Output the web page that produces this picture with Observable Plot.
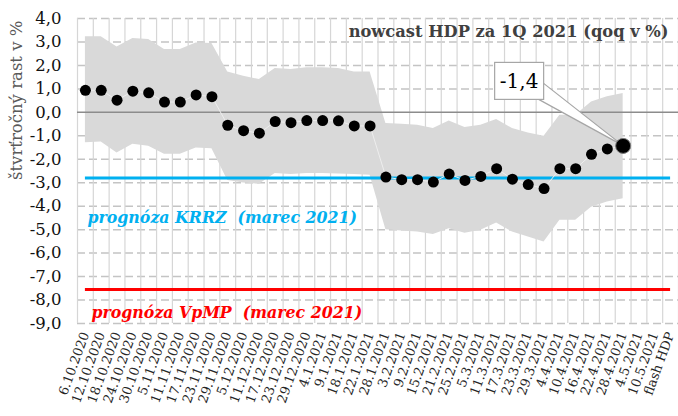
<!DOCTYPE html>
<html><head><meta charset="utf-8">
<script src="https://cdn.jsdelivr.net/npm/d3@7"></script>
<script src="https://cdn.jsdelivr.net/npm/@observablehq/plot@0.6"></script>
<style>body{margin:0;background:#fff;} svg{display:block}</style>
</head><body><div id="chart"></div>
<script>
const labels = ["6.10.2020","12.10.2020","18.10.2020","24.10.2020","30.10.2020","5.11.2020","11.11.2020","17.11.2020","23.11.2020","29.11.2020","5.12.2020","11.12.2020","17.12.2020","23.12.2020","29.12.2020","4.1.2021","9.1.2021","18.1.2021","22.1.2021","28.1.2021","3.2.2021","9.2.2021","15.2.2021","21.2.2021","25.2.2021","5.3.2021","11.3.2021","17.3.2021","23.3.2021","29.3.2021","4.4.2021","10.4.2021","16.4.2021","22.4.2021","28.4.2021","4.5.2021","10.5.2021","flash HDP"];
const nowcast = [0.94,0.94,0.52,0.90,0.83,0.44,0.44,0.74,0.67,-0.55,-0.78,-0.89,-0.39,-0.44,-0.35,-0.35,-0.36,-0.58,-0.58,-2.76,-2.87,-2.87,-2.97,-2.63,-2.90,-2.73,-2.40,-2.85,-3.08,-3.25,-2.40,-2.40,-1.79,-1.56,-1.43,null,null,null];
const upper = [3.22,3.22,2.79,3.15,3.10,2.68,2.68,2.96,2.93,1.72,1.54,1.40,1.87,1.83,1.90,1.90,1.87,1.72,1.72,-0.48,-0.51,-0.55,-0.69,-0.37,-0.65,-0.55,-0.31,-0.69,-0.88,-1.02,-0.12,-0.12,0.44,0.66,0.80];
const lower = [-1.30,-1.26,-1.73,-1.36,-1.45,-1.79,-1.79,-1.52,-1.55,-2.90,-3.01,-3.07,-2.61,-2.65,-2.61,-2.61,-2.63,-2.65,-2.68,-5.00,-5.06,-5.10,-5.21,-4.96,-5.15,-5.03,-4.72,-5.10,-5.31,-5.53,-4.60,-4.60,-4.04,-3.82,-3.68];
const krrz = -2.8;
const vpmp = -7.55;
const yTicks = [4,3,2,1,0,-1,-2,-3,-4,-5,-6,-7,-8,-9];
const title = "nowcast HDP za 1Q 2021 (qoq v %)";
const yLabel = "štvrťročný rast v %";
const krrzLabel = "prognóza KRRZ  (marec 2021)";
const vpmpLabel = "prognóza VpMP  (marec 2021)";
const calloutText = "-1,4";

const font = "'DejaVu Serif', 'Liberation Serif', serif";
const fmt = d => d.toFixed(1).replace(".", ",");
const idx = labels.map((_, i) => i);
const points = nowcast.map((v, i) => ({i, v})).filter(d => d.v != null);
const last = points[points.length - 1];
const rest = points.slice(0, -1);
const band = upper.map((u, i) => ({i, hi: u, lo: lower[i]}));
const bounds = d3.range(-0.5, labels.length, 1);
const n = labels.length;
const refLines = [{v: krrz, a: 0, b: n - 1, c: "#00b0f0"}, {v: vpmp, a: 0, b: n - 1, c: "#ff0000"}];
const labelStyle = {x: "i", y: "v", text: "t", fill: "c", textAnchor: "start", dx: 2, fontSize: 15.8, fontWeight: "bold", fontStyle: "italic"};

const chart = Plot.plot({
  width: 678, height: 416,
  marginLeft: 77, marginRight: 0, marginTop: 18, marginBottom: 93,
  style: {fontFamily: font, background: "#fff", overflow: "visible"},
  x: {domain: [-0.5, n - 0.5]},
  y: {domain: [-9, 4]},
  marks: [
    Plot.ruleY(yTicks.filter(d => d !== 0), {stroke: "#c4c4c4", strokeWidth: 1.5, strokeDasharray: "8,4"}),
    Plot.ruleX(bounds, {stroke: "#d6d6d6", strokeWidth: 1.2}),
    Plot.areaY(band, {x: "i", y1: "lo", y2: "hi", fill: "#d9d9d9"}),
    Plot.ruleY([0], {stroke: "#8c8c8c", strokeWidth: 1.5}),
    Plot.ruleY(refLines, {y: "v", x1: "a", x2: "b", stroke: "c", strokeWidth: 3}),
    Plot.text([{i: 0, v: krrz, t: krrzLabel, c: "#00b0f0"}], {...labelStyle, dy: 40}),
    Plot.text([{i: 0, v: vpmp, t: vpmpLabel, c: "#ff0000"}], {...labelStyle, dy: 23, dx: 6}),
    Plot.axisY(yTicks, {tickFormat: fmt, tickSize: 0, tickPadding: 16, fontSize: 16.5, fill: "#111", label: null}),
    Plot.axisX(idx, {tickFormat: i => labels[i], tickRotate: -70, tickSize: 0, tickPadding: 9, fontSize: 13, fill: "#262626", label: null}),
    Plot.text([title], {frameAnchor: "top-right", dx: -10, dy: 13, lineAnchor: "middle", textAnchor: "end", fontSize: 16.3, fontWeight: "bold", fill: "#404040"}),
    Plot.text([yLabel], {frameAnchor: "top-left", rotate: -90, textAnchor: "end", lineAnchor: "middle", dx: -61, dy: 2, fontSize: 16.5, fill: "#595959"}),
    Plot.line(points, {x: "i", y: "v", stroke: "#eeeeee", strokeWidth: 1}),
    Plot.dot(rest, {x: "i", y: "v", r: 5.5, fill: "#000"}),
    Plot.dot([last], {x: "i", y: "v", r: 7.5, fill: "#000", stroke: "#777", strokeWidth: 1})
  ]
});
document.getElementById("chart").appendChild(chart);

// callout anchored to the last nowcast point through the plot scales
const px = chart.scale("x").apply(last.i);
const py = chart.scale("y").apply(last.v);
const g = d3.create("svg:g");
const bx0 = px - 128, bx1 = px - 79, by0 = py - 83, by1 = py - 46;
g.append("path")
  .attr("d", `M${bx1},${by0 + 21}L${px},${py}L${bx1 - 5},${by1}Z`)
  .attr("fill", "#fff").attr("stroke", "#a6a6a6").attr("stroke-width", 1.2);
g.append("rect")
  .attr("x", bx0).attr("y", by0).attr("width", bx1 - bx0).attr("height", by1 - by0)
  .attr("fill", "#fff").attr("stroke", "#a6a6a6").attr("stroke-width", 1.2);
g.append("text")
  .attr("x", (bx0 + bx1) / 2).attr("y", (by0 + by1) / 2).attr("dy", "0.35em")
  .attr("text-anchor", "middle").attr("font-size", 20).attr("fill", "#000")
  .attr("font-family", font).text(calloutText);
chart.insertBefore(g.node(), chart.lastChild);
</script>
</body></html>
